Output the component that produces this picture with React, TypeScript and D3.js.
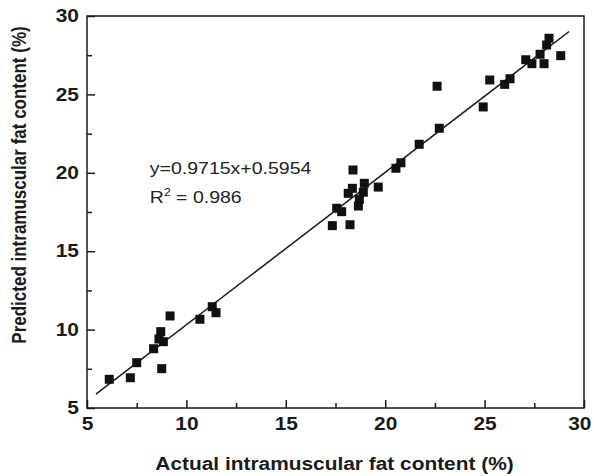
import React, { useEffect, useRef } from 'react';
import * as d3 from 'd3';

// actual vs predicted intramuscular fat (%)
const actual = [
  6.12, 7.18, 7.5, 8.35, 8.71, 8.62, 8.84, 8.76, 9.18, 10.68, 11.3, 11.49,
  17.34, 17.56, 17.81, 18.23, 18.65, 18.7, 18.14, 18.35, 18.9, 18.95, 19.65, 18.38,
  20.54, 20.79, 21.71, 22.72, 22.61, 24.93, 25.26, 26.01, 26.28, 27.07, 27.38,
  27.79, 27.99, 28.12, 28.24, 28.83,
];
const predicted = [
  6.83, 6.93, 7.89, 8.78, 9.87, 9.4, 9.23, 7.51, 10.87, 10.66, 11.46, 11.08,
  16.63, 17.74, 17.52, 16.69, 17.88, 18.31, 18.69, 19.01, 18.76, 19.33, 19.09, 20.18,
  20.29, 20.64, 21.82, 22.84, 25.52, 24.2, 25.92, 25.64, 26.0, 27.21, 26.96,
  27.56, 26.96, 28.15, 28.58, 27.47,
];
const majorTicks = [5, 10, 15, 20, 25, 30];
const minorTicks = [7.5, 12.5, 17.5, 22.5, 27.5];
const slope = 0.9715;
const intercept = 0.5954;
const fitRange = [5.45, 29.25];

const W = 594;
const H = 476;
const margin = { top: 16, right: 10, bottom: 68, left: 87 };
const stretch = 1.16; // text in the figure is a bit wide

export default function App() {
  const ref = useRef<SVGSVGElement>(null);

  useEffect(() => {
    const svg = d3.select(ref.current);
    svg.selectAll('*').remove();
    const w = W - margin.left - margin.right;
    const h = H - margin.top - margin.bottom;
    const x = d3.scaleLinear().domain([5, 30]).range([0, w]);
    const y = d3.scaleLinear().domain([5, 30]).range([h, 0]);
    const font = 'Liberation Sans, Arial, sans-serif';
    const ink = '#1a1a1a';

    const g = svg.append('g').attr('transform', `translate(${margin.left},${margin.top})`);

    // minor ticks (inward, no labels)
    const xMinor = g.append('g').attr('transform', `translate(0,${h})`)
      .call(d3.axisBottom(x).tickValues(minorTicks).tickSizeInner(-5).tickSizeOuter(0).tickFormat(() => ''));
    const yMinor = g.append('g')
      .call(d3.axisLeft(y).tickValues(minorTicks).tickSizeInner(-5).tickSizeOuter(0).tickFormat(() => ''));

    const xAxis = g.append('g').attr('transform', `translate(0,${h})`)
      .call(d3.axisBottom(x).tickValues(majorTicks).tickSizeInner(-8).tickSizeOuter(0).tickPadding(9).tickFormat(d3.format('d')));
    const yAxis = g.append('g')
      .call(d3.axisLeft(y).tickValues(majorTicks).tickSizeInner(-8).tickSizeOuter(0).tickPadding(7).tickFormat(d3.format('d')));

    [xMinor, yMinor, xAxis, yAxis].forEach(a => {
      a.select('.domain').remove();
      a.selectAll('line').attr('stroke', ink).attr('stroke-width', 1.5);
      a.selectAll('text')
        .attr('fill', ink)
        .attr('font-family', font)
        .attr('font-weight', 'bold')
        .attr('font-size', 18)
        .attr('transform', `scale(${stretch},1)`);
    });
    // keep the last x label inside the page
    xAxis.selectAll('text').filter(d => d === 30).attr('dx', -4);

    // frame
    g.append('rect')
      .attr('width', w).attr('height', h)
      .attr('fill', 'none').attr('stroke', ink).attr('stroke-width', 1.5);

    // fit line
    g.append('line')
      .attr('x1', x(fitRange[0])).attr('y1', y(slope * fitRange[0] + intercept))
      .attr('x2', x(fitRange[1])).attr('y2', y(slope * fitRange[1] + intercept))
      .attr('stroke', ink).attr('stroke-width', 1.5);

    const s = 9;
    g.selectAll('rect.pt')
      .data(d3.range(actual.length))
      .enter().append('rect')
      .attr('class', 'pt')
      .attr('x', i => x(actual[i]) - s / 2)
      .attr('y', i => y(predicted[i]) - s / 2)
      .attr('width', s).attr('height', s)
      .attr('fill', '#111');

    // equation
    const eq = g.append('g')
      .attr('transform', `translate(${x(8.16)},${y(19.92)}) scale(1.22,1)`);
    eq.append('text')
      .attr('font-family', font).attr('font-size', 16).attr('fill', '#222')
      .text(`y=${slope}x+${intercept}`);
    const r2 = g.append('g')
      .attr('transform', `translate(${x(8.16)},${y(18.07)}) scale(1.22,1)`)
      .append('text')
      .attr('font-family', font).attr('font-size', 16).attr('fill', '#222');
    r2.append('tspan').text('R');
    r2.append('tspan').attr('font-size', 10).attr('dy', -7).text('2');
    r2.append('tspan').attr('dy', 7).text(' = 0.986');

    svg.append('g')
      .attr('transform', `translate(${margin.left + w / 2 - 1},470) scale(${stretch},1)`)
      .append('text')
      .attr('text-anchor', 'middle')
      .attr('font-family', font).attr('font-weight', 'bold').attr('font-size', 18).attr('fill', ink)
      .text('Actual intramuscular fat content (%)');

    svg.append('g')
      .attr('transform', `translate(26,${margin.top + h / 2 - 27}) scale(${stretch},1) rotate(-90)`)
      .append('text')
      .attr('text-anchor', 'middle')
      .attr('font-family', font).attr('font-weight', 'bold').attr('font-size', 17).attr('fill', ink)
      .text('Predicted intramuscular fat content (%)');
  }, []);

  return (
    <svg
      ref={ref}
      width={W}
      height={H}
      style={{ position: 'absolute', left: 0, top: 0, background: '#fff' }}
    />
  );
}
